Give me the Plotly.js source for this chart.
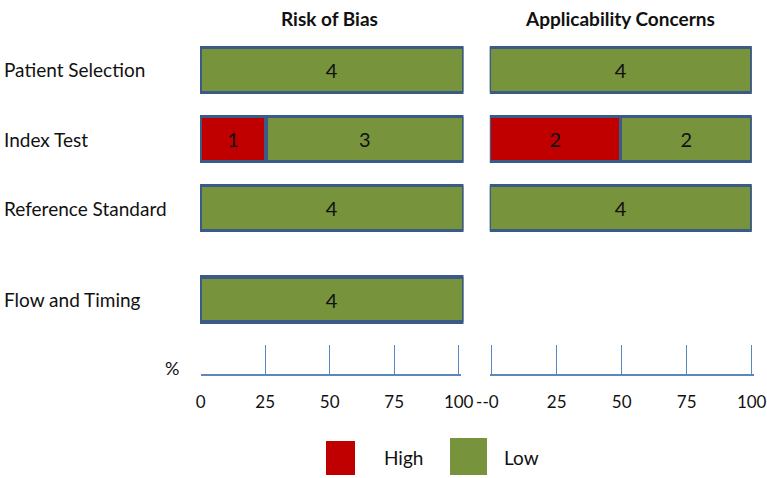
<!DOCTYPE html>
<html>
<head>
<meta charset="utf-8">
<script src="https://cdn.plot.ly/plotly-3.0.1.min.js"></script>
<style>html,body{margin:0;padding:0;background:#fff;}#chart{width:767px;height:478px;}</style>
</head>
<body>
<div id="chart"></div>
<script>
// ---- data ----
const domains = ["Patient Selection", "Index Test", "Reference Standard", "Flow and Timing"];
const nStudies = 4;
const robHigh = [0, 1, 0, 0];
const robLow  = [4, 3, 4, 4];
const acHigh  = [0, 2, 0];
const acLow   = [4, 2, 4];
const panelTitles = ["Risk of Bias", "Applicability Concerns"];
const tickVals = [0, 25, 50, 75, 100];
const leftTickText  = ["0", "25", "50", "75", "100"];
const rightTickText = ["--0\u00a0\u00a0", "25", "50", "75", "100"];
const legendLabels = ["High", "Low"];
const axisUnit = "%";

// ---- styles ----
const FONT = "Lato, 'Open Sans', sans-serif";
const RED = "#C00000", GREEN = "#77933C", EDGE = "#3A5B87", AXIS = "#5B87BE";
const W = 767, H = 478;
const px = v => v / W;           // paper x
const py = v => 1 - v / H;       // paper y (from top pixel)

const pct = arr => arr.map(c => c / nStudies * 100);
const lab = arr => arr.map(c => c > 0 ? String(c) : "");

const topRows = domains.slice(0, 3);
const flowRows = domains.slice(3);

function barTrace(vals, rows, color, xa, ya) {
  return {
    type: "bar", orientation: "h",
    x: pct(vals), y: rows, text: lab(vals),
    xaxis: xa, yaxis: ya, width: 0.652,
    marker: {color: color, line: {color: EDGE, width: 3.4}},
    textposition: "inside", insidetextanchor: "middle", constraintext: "none",
    textangle: 0,
    textfont: {family: FONT, size: 20, color: "#111"},
    hoverinfo: "skip", showlegend: false, cliponaxis: false
  };
}

const traces = [
  barTrace(robHigh.slice(0, 3), topRows, RED, "x", "y"),
  barTrace(robLow.slice(0, 3), topRows, GREEN, "x", "y"),
  barTrace(robHigh.slice(3), flowRows, RED, "x", "y2"),
  barTrace(robLow.slice(3), flowRows, GREEN, "x", "y2"),
  barTrace(acHigh, topRows, RED, "x2", "y"),
  barTrace(acLow, topRows, GREEN, "x2", "y"),
  {type: "scatter", x: [], y: [], xaxis: "x3", yaxis: "y3", showlegend: false, hoverinfo: "skip"},
  {type: "scatter", x: [], y: [], xaxis: "x4", yaxis: "y3", showlegend: false, hoverinfo: "skip"}
];

const hiddenX = {range: [0, 100], visible: false, fixedrange: true};
// scale axis: pixel of value 0 (p0) and value 100 (p100), with small padding so end ticks are kept
function scaleX(p0, p100, padLo, padHi, ticktext) {
  const k = (p100 - p0) / 100;
  return {
    domain: [px(p0 - padLo * k), px(p100 + padHi * k)], range: [-padLo, 100 + padHi], anchor: "y3",
    showline: true, linecolor: AXIS, linewidth: 1.6,
    ticks: "inside", ticklen: 29, tickwidth: 1.4, tickcolor: AXIS,
    tickmode: "array", tickvals: tickVals, ticktext: ticktext,
    ticklabelstandoff: 12, ticklabeloverflow: "allow",
    tickfont: {family: FONT, size: 17, color: "#111"},
    showgrid: false, zeroline: false, fixedrange: true
  };
}

const annotations = [];
panelTitles.forEach((t, i) => annotations.push({
  text: "<b>" + t + "</b>", xref: "paper", yref: "paper",
  x: px(i === 0 ? 329 : 620), y: py(18), xanchor: "center", yanchor: "middle",
  showarrow: false, font: {family: FONT, size: 19, color: "#111"}
}));
topRows.forEach(r => annotations.push({
  text: r, xref: "paper", yref: "y", x: px(2), y: r, xanchor: "left", yanchor: "middle",
  showarrow: false, font: {family: FONT, size: 19, color: "#111"}
}));
flowRows.forEach(r => annotations.push({
  text: r, xref: "paper", yref: "y2", x: px(2), y: r, xanchor: "left", yanchor: "middle",
  showarrow: false, font: {family: FONT, size: 19, color: "#111"}
}));
annotations.push({
  text: axisUnit, xref: "paper", yref: "paper", x: px(172), y: py(368),
  xanchor: "center", yanchor: "middle", showarrow: false,
  font: {family: FONT, size: 18, color: "#111"}
});
annotations.push({
  text: legendLabels[0], xref: "paper", yref: "paper", x: px(403), y: py(457),
  xanchor: "center", yanchor: "middle", showarrow: false,
  font: {family: FONT, size: 19, color: "#111"}
});
annotations.push({
  text: legendLabels[1], xref: "paper", yref: "paper", x: px(521), y: py(457),
  xanchor: "center", yanchor: "middle", showarrow: false,
  font: {family: FONT, size: 19, color: "#111"}
});

const shapes = [
  {type: "rect", xref: "paper", yref: "paper", x0: px(326), x1: px(355), y0: py(475), y1: py(441),
   fillcolor: RED, line: {width: 0}},
  {type: "rect", xref: "paper", yref: "paper", x0: px(450), x1: px(487), y0: py(475), y1: py(438),
   fillcolor: GREEN, line: {width: 0}}
];

const layout = {
  width: W, height: H,
  margin: {l: 0, r: 0, t: 0, b: 0},
  paper_bgcolor: "#fff", plot_bgcolor: "rgba(0,0,0,0)",
  barmode: "stack", showlegend: false,
  font: {family: FONT, size: 19, color: "#111"},
  xaxis:  Object.assign({domain: [px(200), px(463.5)], anchor: "y"}, hiddenX),
  xaxis2: Object.assign({domain: [px(489.8), px(751.8)], anchor: "y"}, hiddenX),
  xaxis3: scaleX(200.7, 458.7, 0, 0.7, leftTickText),
  xaxis4: scaleX(491.7, 751.7, 0.7, 0.7, rightTickText),
  yaxis:  {domain: [py(243), py(35)], type: "category", range: [2.507, -0.507], visible: false, fixedrange: true},
  yaxis2: {domain: [py(334), py(265)], type: "category", range: [0.5, -0.5], visible: false, fixedrange: true},
  yaxis3: {domain: [py(374), py(340)], range: [0, 1], visible: false, fixedrange: true},
  annotations: annotations,
  shapes: shapes
};

Plotly.newPlot("chart", traces, layout, {staticPlot: true, displayModeBar: false});
</script>
</body>
</html>
